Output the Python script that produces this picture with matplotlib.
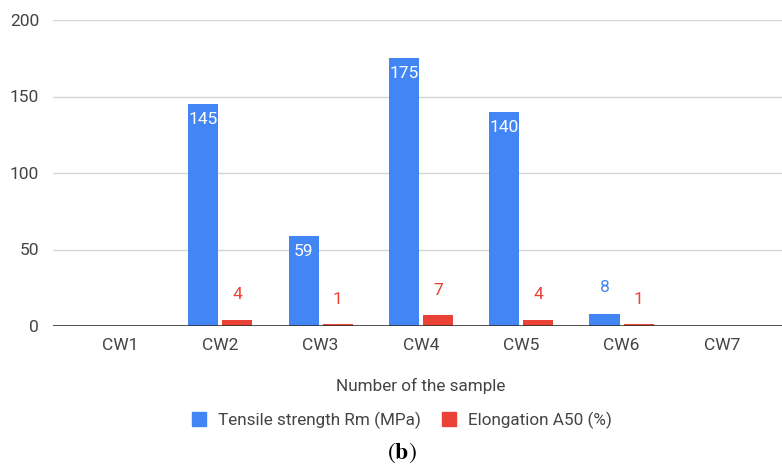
import numpy as np
import matplotlib
matplotlib.use('Agg')
import matplotlib.pyplot as plt
from matplotlib.patches import Patch

# data
samples = ['CW1', 'CW2', 'CW3', 'CW4', 'CW5', 'CW6', 'CW7']
tensile = [0, 145, 59, 175, 140, 8, 0]
elongation = [0, 4, 1, 7, 4, 1, 0]
y_ticks = [0, 50, 100, 150, 200]

BLUE = '#4285F4'
RED = '#EA4335'
TXT = '#444444'

plt.rcParams['font.family'] = ['Roboto', 'DejaVu Sans']
plt.rcParams['mathtext.fontset'] = 'stix'

fig = plt.figure(figsize=(7.82, 4.68), dpi=100)
ax = fig.add_axes([53 / 782, 1 - 326 / 468, 1 - 53 / 782, (326 - 20) / 468])

x = np.arange(len(samples))
w = 0.3
off = 0.17

for i, (t, e) in enumerate(zip(tensile, elongation)):
    if t > 0:
        ax.bar(x[i] - off, t, w, color=BLUE, zorder=3)
        if t >= 20:
            ax.annotate(str(t), (x[i] - off, t), xytext=(0, -11),
                        textcoords='offset points', ha='center', va='center',
                        color='white', fontsize=12.5)
        else:
            ax.annotate(str(t), (x[i] - off, t), xytext=(0, 19),
                        textcoords='offset points', ha='center', va='center',
                        color=BLUE, fontsize=12.5)
    if e > 0:
        ax.bar(x[i] + off, e, w, color=RED, zorder=3)
        ax.annotate(str(e), (x[i] + off, e), xytext=(0, 18),
                    textcoords='offset points', ha='center', va='center',
                    color=RED, fontsize=12.5)

ax.set_xlim(-0.668, 6.6)
ax.set_ylim(0, 200)
ax.set_yticks(y_ticks)
ax.set_xticks(x)
ax.set_xticklabels(samples)
ax.tick_params(axis='both', length=0, labelsize=12.5, colors=TXT)
ax.tick_params(axis='x', pad=9)
ax.tick_params(axis='y', pad=10)
for s in ax.spines.values():
    s.set_visible(False)
ax.grid(axis='y', color='#d6d6d6', linewidth=1, zorder=0)
ax.axhline(0, color='#333333', linewidth=1.2, zorder=4)

fig.text(421 / 782, 1 - 386 / 468, 'Number of the sample', ha='center',
         va='center', fontsize=12.3, color=TXT)

handles = [Patch(color=BLUE, label='Tensile strength Rm (MPa)'),
           Patch(color=RED, label='Elongation A50 (%)')]
fig.legend(handles=handles, loc='center', ncol=2,
           bbox_to_anchor=(402 / 782, 1 - 420 / 468), frameon=False,
           fontsize=12.3, handlelength=0.85, handleheight=0.85,
           handletextpad=0.7, columnspacing=1.2, labelcolor=TXT)

fig.text(402 / 782, 1 - 453 / 468, r'$(\mathbf{b})$', ha='center', va='center',
         fontsize=17)

fig.savefig('out.png', dpi=100)
